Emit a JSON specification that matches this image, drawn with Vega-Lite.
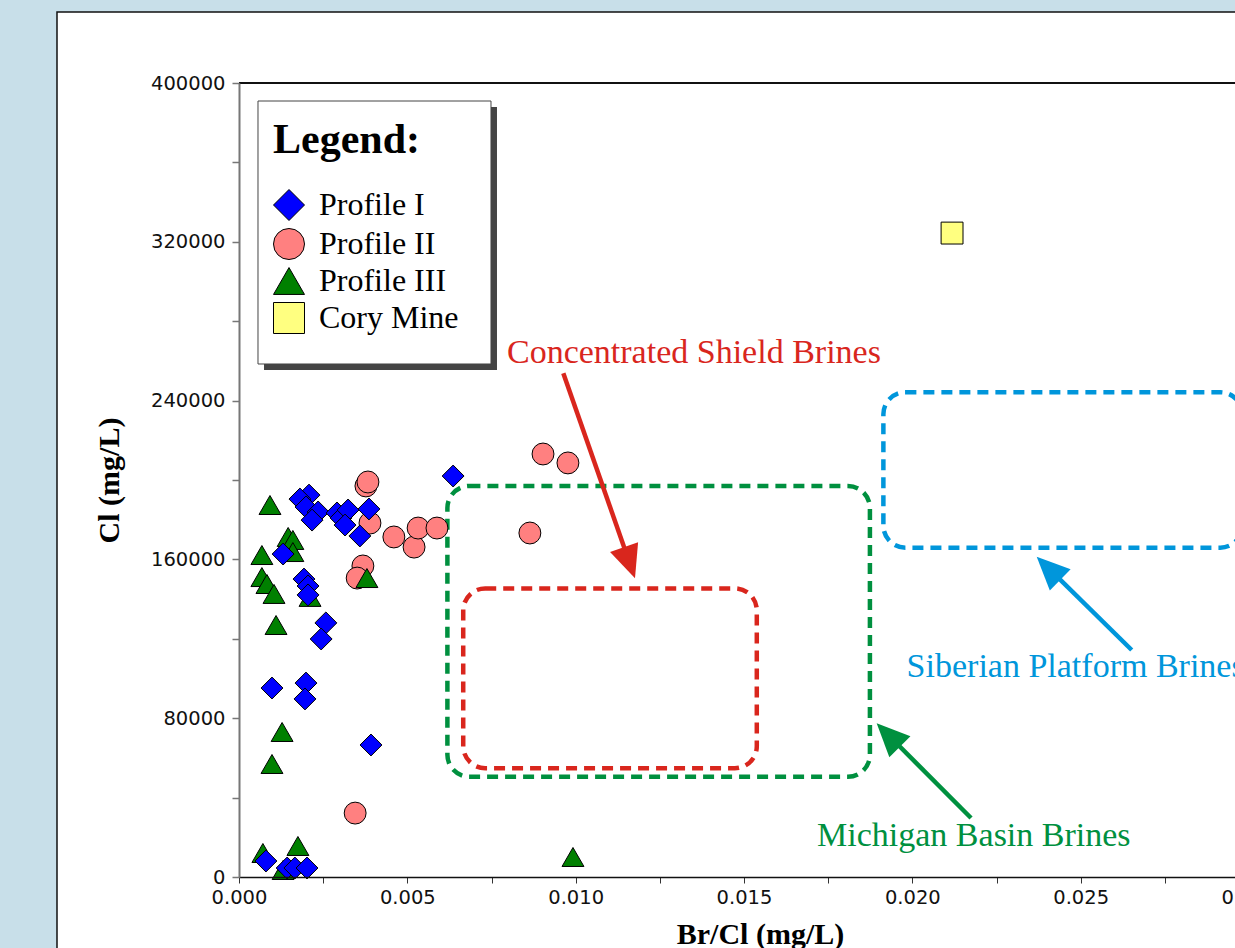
{
  "$schema": "https://vega.github.io/schema/vega-lite/v6.json",
  "width": 1010,
  "height": 794,
  "autosize": {"type": "none"},
  "padding": {"left": 239, "top": 83, "right": -14, "bottom": 71},
  "background": "#c8dfe9",
  "config": {
    "view": {"stroke": null},
    "font": "Liberation Serif",
    "legend": {"symbolStrokeColor": "black", "symbolStrokeWidth": 1, "symbolOpacity": 1}
  },
  "datasets": {
    "samples": [
      {"profile": "Profile II", "brcl": 0.00377, "cl": 197000},
      {"profile": "Profile II", "brcl": 0.00383, "cl": 199000},
      {"profile": "Profile II", "brcl": 0.00389, "cl": 178300},
      {"profile": "Profile II", "brcl": 0.00460, "cl": 171300},
      {"profile": "Profile II", "brcl": 0.00520, "cl": 166200},
      {"profile": "Profile II", "brcl": 0.00532, "cl": 175800},
      {"profile": "Profile II", "brcl": 0.00588, "cl": 175800},
      {"profile": "Profile II", "brcl": 0.00864, "cl": 173300},
      {"profile": "Profile II", "brcl": 0.00903, "cl": 213100},
      {"profile": "Profile II", "brcl": 0.00977, "cl": 208600},
      {"profile": "Profile II", "brcl": 0.00368, "cl": 156700},
      {"profile": "Profile II", "brcl": 0.00351, "cl": 150600},
      {"profile": "Profile II", "brcl": 0.00345, "cl": 32200},
      {"profile": "Profile III", "brcl": 0.00092, "cl": 187400},
      {"profile": "Profile III", "brcl": 0.00146, "cl": 171300},
      {"profile": "Profile III", "brcl": 0.00160, "cl": 169800},
      {"profile": "Profile III", "brcl": 0.00160, "cl": 163700},
      {"profile": "Profile III", "brcl": 0.00068, "cl": 162200},
      {"profile": "Profile III", "brcl": 0.00068, "cl": 151100},
      {"profile": "Profile III", "brcl": 0.00083, "cl": 147600},
      {"profile": "Profile III", "brcl": 0.00104, "cl": 142600},
      {"profile": "Profile III", "brcl": 0.00211, "cl": 141100},
      {"profile": "Profile III", "brcl": 0.00380, "cl": 150600},
      {"profile": "Profile III", "brcl": 0.00110, "cl": 126950},
      {"profile": "Profile III", "brcl": 0.00128, "cl": 73050},
      {"profile": "Profile III", "brcl": 0.00098, "cl": 56930},
      {"profile": "Profile III", "brcl": 0.00071, "cl": 12090},
      {"profile": "Profile III", "brcl": 0.00175, "cl": 15620},
      {"profile": "Profile III", "brcl": 0.00131, "cl": 3530},
      {"profile": "Profile III", "brcl": 0.00992, "cl": 10080},
      {"profile": "Profile I", "brcl": 0.00208, "cl": 192400},
      {"profile": "Profile I", "brcl": 0.00181, "cl": 190400},
      {"profile": "Profile I", "brcl": 0.00199, "cl": 186400},
      {"profile": "Profile I", "brcl": 0.00235, "cl": 183900},
      {"profile": "Profile I", "brcl": 0.00217, "cl": 179800},
      {"profile": "Profile I", "brcl": 0.00291, "cl": 183400},
      {"profile": "Profile I", "brcl": 0.00303, "cl": 180900},
      {"profile": "Profile I", "brcl": 0.00324, "cl": 184900},
      {"profile": "Profile I", "brcl": 0.00315, "cl": 177300},
      {"profile": "Profile I", "brcl": 0.00386, "cl": 185400},
      {"profile": "Profile I", "brcl": 0.00359, "cl": 171800},
      {"profile": "Profile I", "brcl": 0.00131, "cl": 162700},
      {"profile": "Profile I", "brcl": 0.00193, "cl": 150100},
      {"profile": "Profile I", "brcl": 0.00205, "cl": 146600},
      {"profile": "Profile I", "brcl": 0.00205, "cl": 142100},
      {"profile": "Profile I", "brcl": 0.00258, "cl": 128000},
      {"profile": "Profile I", "brcl": 0.00244, "cl": 119900},
      {"profile": "Profile I", "brcl": 0.00098, "cl": 95200},
      {"profile": "Profile I", "brcl": 0.00199, "cl": 97700},
      {"profile": "Profile I", "brcl": 0.00196, "cl": 89700},
      {"profile": "Profile I", "brcl": 0.00392, "cl": 66500},
      {"profile": "Profile I", "brcl": 0.00080, "cl": 8060},
      {"profile": "Profile I", "brcl": 0.00143, "cl": 4530},
      {"profile": "Profile I", "brcl": 0.00166, "cl": 4530},
      {"profile": "Profile I", "brcl": 0.00202, "cl": 4530},
      {"profile": "Profile I", "brcl": 0.00636, "cl": 202000},
      {"profile": "Cory Mine", "brcl": 0.02118, "cl": 324400}
    ],
    "regions": [
      {"region": "Michigan Basin Brines", "brcl_lo": 0.00619, "brcl_hi": 0.01874, "cl_lo": 50500, "cl_hi": 197000},
      {"region": "Concentrated Shield Brines", "brcl_lo": 0.00666, "brcl_hi": 0.01538, "cl_lo": 54800, "cl_hi": 145400},
      {"region": "Siberian Platform Brines", "brcl_lo": 0.01914, "brcl_hi": 0.0298, "cl_lo": 165900, "cl_hi": 244200}
    ],
    "arrows": [
      {"region": "Concentrated Shield Brines", "tail_brcl": 0.009633, "tail_cl": 253750, "neck_brcl": 0.011566, "neck_cl": 160000, "tip_brcl": 0.011762, "tip_cl": 150480},
      {"region": "Siberian Platform Brines", "tail_brcl": 0.026516, "tail_cl": 114360, "neck_brcl": 0.024119, "neck_cl": 154310, "tip_brcl": 0.023694, "tip_cl": 161360},
      {"region": "Michigan Basin Brines", "tail_brcl": 0.021743, "tail_cl": 29720, "neck_brcl": 0.01936, "neck_cl": 70280, "tip_brcl": 0.018941, "tip_cl": 77430}
    ],
    "captions": [
      {"region": "Concentrated Shield Brines", "brcl": 0.00796, "cl": 258800},
      {"region": "Michigan Basin Brines", "brcl": 0.01717, "cl": 15620},
      {"region": "Siberian Platform Brines", "brcl": 0.01983, "cl": 100900}
    ]
  },
  "encoding": {
    "x": {
      "type": "quantitative",
      "scale": {"domain": [0, 0.03], "nice": false, "zero": false},
      "axis": {
        "zindex": 1,
        "values": [0, 0.0025, 0.005, 0.0075, 0.01, 0.0125, 0.015, 0.0175, 0.02, 0.0225, 0.025, 0.0275, 0.03],
        "format": ".3f",
        "labelExpr": "round(datum.value * 10000) % 50 === 0 ? datum.label : ''",
        "grid": false,
        "domainColor": "#111111",
        "domainWidth": 1.5,
        "tickColor": "#333333",
        "tickSize": 6,
        "tickWidth": 1,
        "labelFont": "DejaVu Sans",
        "labelFontSize": 19.5,
        "labelColor": "#111111",
        "labelPadding": 5,
        "labelFlush": false,
        "labelOverlap": false,
        "labelBound": false,
        "title": "Br/Cl (mg/L)",
        "titleFont": "Liberation Serif",
        "titleFontSize": 30,
        "titleFontWeight": "bold",
        "titleColor": "black",
        "titlePadding": 13,
        "titleX": 521
      }
    },
    "y": {
      "type": "quantitative",
      "scale": {"domain": [0, 400000], "nice": false, "zero": false},
      "axis": {
        "zindex": 1,
        "values": [0, 40000, 80000, 120000, 160000, 200000, 240000, 280000, 320000, 360000, 400000],
        "format": "d",
        "labelExpr": "datum.value % 80000 === 0 ? datum.label : ''",
        "grid": false,
        "domainColor": "#777777",
        "domainWidth": 2,
        "tickColor": "#777777",
        "tickSize": 7,
        "tickWidth": 1.5,
        "labelFont": "DejaVu Sans",
        "labelFontSize": 19.5,
        "labelColor": "#111111",
        "labelPadding": 7,
        "labelFlush": false,
        "labelOverlap": false,
        "title": "Cl (mg/L)",
        "titleFont": "Liberation Serif",
        "titleFontSize": 30,
        "titleFontWeight": "bold",
        "titleColor": "black",
        "titlePadding": 26
      }
    }
  },
  "layer": [
    {
      "description": "white slide panel behind the chart",
      "data": {"values": [{}]},
      "mark": {"type": "rect", "fill": "white", "stroke": "#111111", "strokeWidth": 1.5},
      "encoding": {
        "x": {"datum": -0.005406, "type": "quantitative"},
        "x2": {"datum": 0.04},
        "y": {"datum": 435770, "type": "quantitative"},
        "y2": {"datum": -80000}
      }
    },
    {
      "description": "drop shadow of the legend box",
      "data": {"values": [{}]},
      "mark": {"type": "rect", "fill": "#444444"},
      "encoding": {
        "x": {"datum": 0.000743, "type": "quantitative"},
        "x2": {"datum": 0.007663},
        "y": {"datum": 387910, "type": "quantitative"},
        "y2": {"datum": 255420}
      }
    },
    {
      "description": "legend box",
      "data": {"values": [{}]},
      "mark": {"type": "rect", "fill": "white", "stroke": "#444444", "strokeWidth": 1},
      "encoding": {
        "x": {"datum": 0.000564, "type": "quantitative"},
        "x2": {"datum": 0.007485},
        "y": {"datum": 390930, "type": "quantitative"},
        "y2": {"datum": 258440}
      }
    },
    {
      "description": "top frame line",
      "data": {"values": [{}]},
      "mark": {"type": "rule", "color": "#111111", "strokeWidth": 2},
      "encoding": {"y": {"datum": 400000, "type": "quantitative"}}
    },
    {
      "data": {"name": "regions"},
      "mark": {"type": "rect", "filled": false, "strokeWidth": 4.5, "strokeDash": [11, 7], "cornerRadius": 22},
      "encoding": {
        "x": {"field": "brcl_lo", "type": "quantitative"},
        "x2": {"field": "brcl_hi"},
        "y": {"field": "cl_lo", "type": "quantitative"},
        "y2": {"field": "cl_hi"},
        "color": {
          "field": "region", "type": "nominal",
          "scale": {"domain": ["Concentrated Shield Brines", "Michigan Basin Brines", "Siberian Platform Brines"], "range": ["#d9261d", "#00903f", "#0096db"]},
          "legend": null
        }
      }
    },
    {
      "data": {"name": "arrows"},
      "mark": {"type": "rule", "strokeWidth": 4.5},
      "encoding": {
        "x": {"field": "tail_brcl", "type": "quantitative"},
        "y": {"field": "tail_cl", "type": "quantitative"},
        "x2": {"field": "neck_brcl"},
        "y2": {"field": "neck_cl"},
        "color": {"field": "region", "type": "nominal", "legend": null}
      }
    },
    {
      "data": {"name": "arrows"},
      "transform": [{"filter": "datum.region === 'Concentrated Shield Brines'"}],
      "mark": {"type": "point", "shape": "M0,0L-0.45,1L0.45,1Z", "filled": true, "opacity": 1, "size": 4356, "angle": 160.7, "strokeWidth": 0},
      "encoding": {
        "x": {"field": "tip_brcl", "type": "quantitative"},
        "y": {"field": "tip_cl", "type": "quantitative"},
        "color": {"field": "region", "type": "nominal", "legend": null}
      }
    },
    {
      "data": {"name": "arrows"},
      "transform": [{"filter": "datum.region === 'Siberian Platform Brines'"}],
      "mark": {"type": "point", "shape": "M0,0L-0.45,1L0.45,1Z", "filled": true, "opacity": 1, "size": 4356, "angle": 314.5, "strokeWidth": 0},
      "encoding": {
        "x": {"field": "tip_brcl", "type": "quantitative"},
        "y": {"field": "tip_cl", "type": "quantitative"},
        "color": {"field": "region", "type": "nominal", "legend": null}
      }
    },
    {
      "data": {"name": "arrows"},
      "transform": [{"filter": "datum.region === 'Michigan Basin Brines'"}],
      "mark": {"type": "point", "shape": "M0,0L-0.45,1L0.45,1Z", "filled": true, "opacity": 1, "size": 4356, "angle": 315.3, "strokeWidth": 0},
      "encoding": {
        "x": {"field": "tip_brcl", "type": "quantitative"},
        "y": {"field": "tip_cl", "type": "quantitative"},
        "color": {"field": "region", "type": "nominal", "legend": null}
      }
    },
    {
      "data": {"name": "captions"},
      "mark": {"type": "text", "align": "left", "baseline": "alphabetic", "font": "Liberation Serif", "fontSize": 34},
      "encoding": {
        "x": {"field": "brcl", "type": "quantitative"},
        "y": {"field": "cl", "type": "quantitative"},
        "text": {"field": "region"},
        "color": {"field": "region", "type": "nominal", "legend": null}
      }
    },
    {
      "data": {"name": "samples"},
      "mark": {"type": "point", "filled": true, "opacity": 1, "size": 480, "strokeWidth": 1},
      "encoding": {
        "x": {"field": "brcl", "type": "quantitative"},
        "y": {"field": "cl", "type": "quantitative"},
        "stroke": {"value": "black"},
        "fill": {
          "field": "profile", "type": "nominal",
          "scale": {"domain": ["Profile I", "Profile II", "Profile III", "Cory Mine"], "range": ["#0000ff", "#ff8080", "#008000", "#ffff80"]},
          "title": "Legend:",
          "legend": {
            "orient": "none", "legendX": 34, "legendY": 37, "zindex": 1,
            "padding": 0, "fillColor": null, "strokeColor": null,
            "titleFont": "Liberation Serif", "titleFontSize": 42, "titleFontWeight": "bold", "titleColor": "black", "titlePadding": 27,
            "labelFont": "Liberation Serif", "labelFontSize": 32, "labelColor": "black", "labelOffset": 14, "labelLimit": 400,
            "rowPadding": 3, "symbolSize": 961, "symbolStrokeColor": "black", "symbolStrokeWidth": 1,
            "encode": {"symbols": {"update": {"stroke": {"value": "black"}, "strokeWidth": {"value": 1}, "opacity": {"value": 1}}}}
          }
        },
        "shape": {
          "field": "profile", "type": "nominal",
          "scale": {"domain": ["Profile I", "Profile II", "Profile III", "Cory Mine"], "range": ["diamond", "circle", "triangle-up", "square"]},
          "title": "Legend:",
          "legend": {
            "orient": "none", "legendX": 34, "legendY": 37, "zindex": 1,
            "padding": 0, "fillColor": null, "strokeColor": null,
            "titleFont": "Liberation Serif", "titleFontSize": 42, "titleFontWeight": "bold", "titleColor": "black", "titlePadding": 27,
            "labelFont": "Liberation Serif", "labelFontSize": 32, "labelColor": "black", "labelOffset": 14, "labelLimit": 400,
            "rowPadding": 3, "symbolSize": 961, "symbolStrokeColor": "black", "symbolStrokeWidth": 1,
            "encode": {"symbols": {"update": {"stroke": {"value": "black"}, "strokeWidth": {"value": 1}, "opacity": {"value": 1}}}}
          }
        }
      }
    }
  ]
}
